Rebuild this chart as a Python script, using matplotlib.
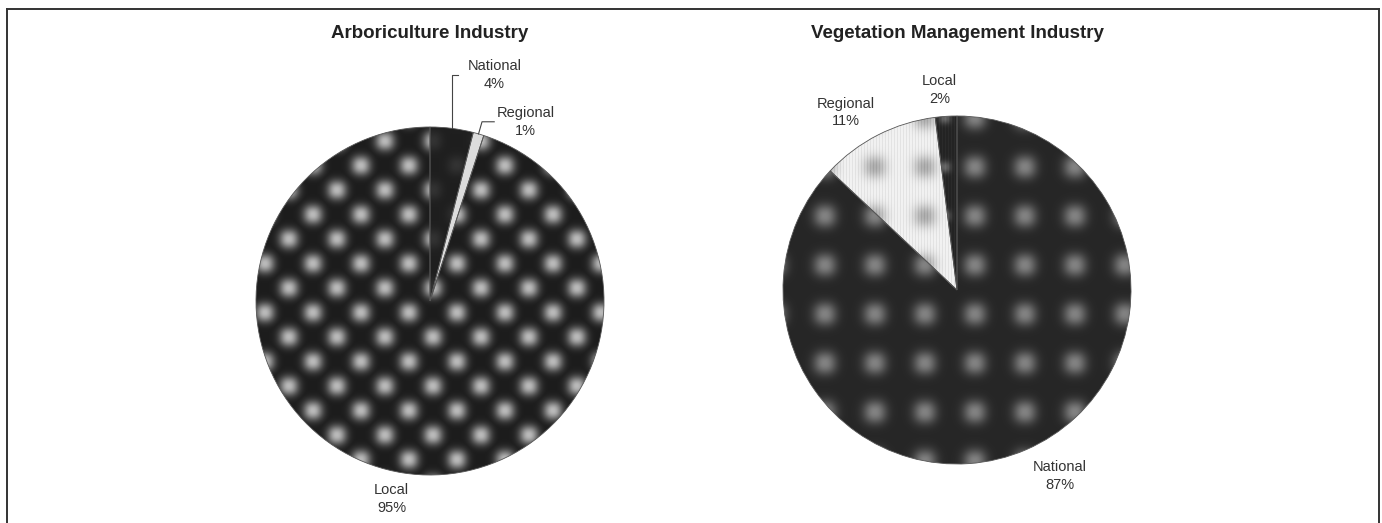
import numpy as np
import matplotlib.pyplot as plt
from matplotlib.lines import Line2D

plt.rcParams['font.family'] = ['Liberation Sans', 'DejaVu Sans']

# data
titles = ['Arboriculture Industry', 'Vegetation Management Industry']
arb_labels = ['National', 'Regional', 'Local']
arb_values = [4, 1, 95]
veg_labels = ['National', 'Regional', 'Local']
veg_values = [87, 11, 2]

W, H = 1382, 523
R = 174  # pie radius, px
txt = '#333333'

fig = plt.figure(figsize=(W / 100, H / 100), dpi=100)


def lattice(xx, yy, x0, y0, dx, dy, stagger, sigma):
    # soft dots on a (staggered) grid, in figure pixels
    j = np.round((yy - y0) / dy)
    out = np.zeros(xx.shape)
    for dj in (-1, 0, 1):
        jj = j + dj
        off = (jj % 2) * stagger
        ddx = (xx - x0 - off + dx / 2) % dx - dx / 2
        ddy = yy - (y0 + jj * dy)
        out = np.maximum(out, np.exp(-(np.abs(ddx) / sigma) ** 2.2 - (np.abs(ddy) / sigma) ** 2.2))
    return out


def texture(cx, cy, base, amp, grid, stripes=0.0):
    ys = np.arange(cy - R, cy + R) + 0.5
    xs = np.arange(cx - R, cx + R) + 0.5
    xx, yy = np.meshgrid(xs, ys)
    img = np.full(xx.shape, base, dtype=float)
    if grid is not None and amp != 0:
        img += amp * lattice(xx, yy, *grid)
    if stripes:
        img += stripes * ((np.floor(xx) % 3) == 0)
    return np.clip(img, 0, 1)


def draw_pie(cx, cy, values, labels, title, styles, label_pos, leaders):
    ax = fig.add_axes([(cx - R) / W, (H - cy - R) / H, 2 * R / W, 2 * R / H])
    wedges, _ = ax.pie(values, startangle=90, counterclock=False, radius=1,
                       wedgeprops=dict(facecolor='none', edgecolor='#555555',
                                       linewidth=0.6, zorder=3))
    for w, lab, val in zip(wedges, labels, values):
        w.set_clip_on(False)
        base, amp, grid, stripes = styles[lab]
        im = ax.imshow(texture(cx, cy, base, amp, grid, stripes), cmap='gray',
                       vmin=0, vmax=1, extent=(-1, 1, -1, 1), origin='upper',
                       interpolation='bilinear', zorder=2)
        im.set_clip_path(w)
        lx, ly = label_pos[lab]
        ax.text(lx, ly, '%s\n%d%%' % (lab, val), ha='center', va='center',
                fontsize=10.5, color=txt, linespacing=1.35)
        if lab in leaders:
            mid = np.deg2rad((w.theta1 + w.theta2) / 2)
            ex, ey = np.cos(mid), np.sin(mid)
            edx, elby, stub = leaders[lab]
            ax.plot([ex, ex + edx, ex + edx + stub], [ey, elby, elby],
                    color='#444444', lw=0.8, clip_on=False, zorder=4)
    ax.set_xlim(-1, 1)
    ax.set_ylim(-1, 1)
    ax.set_aspect('equal')
    ax.axis('off')
    fig.text(cx / W, 1 - 33 / H, title, ha='center', va='center',
             fontsize=13.5, fontweight='bold', color='#222222')


# left pie: staggered light dots
lgrid = (337, 190, 48, 24.5, 24, 9.5)
draw_pie(430, 301, arb_values, arb_labels, titles[0],
         {'National': (0.12, 0.08, lgrid, 0.0),
          'Regional': (0.86, 0.0, None, 0.0),
          'Local': (0.11, 0.62, lgrid, 0.0)},
         {'National': (0.37, 1.30), 'Regional': (0.55, 1.03), 'Local': (-0.22, -1.14)},
         {'National': (0.0, 1.30, 0.035), 'Regional': (0.02, 1.03, 0.07)})

# right pie: square grid of grey dots
rgrid = (825, 167, 50, 49, 0, 11.5)
draw_pie(957, 290, veg_values, veg_labels, titles[1],
         {'National': (0.15, 0.36, rgrid, 0.0),
          'Regional': (0.95, -0.26, rgrid, -0.06),
          'Local': (0.14, 0.25, (945, 167, 50, 49, 0, 6), 0.03)},
         {'National': (0.59, -1.07), 'Regional': (-0.64, 1.02), 'Local': (-0.10, 1.15)},
         {})

# frame (open at the bottom)
x0, x1, yt = 7 / W, 1379 / W, 1 - 9 / H
for xs, ys in [([x0, x0], [0, yt]), ([x0, x1], [yt, yt]), ([x1, x1], [yt, 0])]:
    fig.add_artist(Line2D(xs, ys, transform=fig.transFigure, color='#333333', lw=1.4))

fig.savefig('out.png', dpi=100)
